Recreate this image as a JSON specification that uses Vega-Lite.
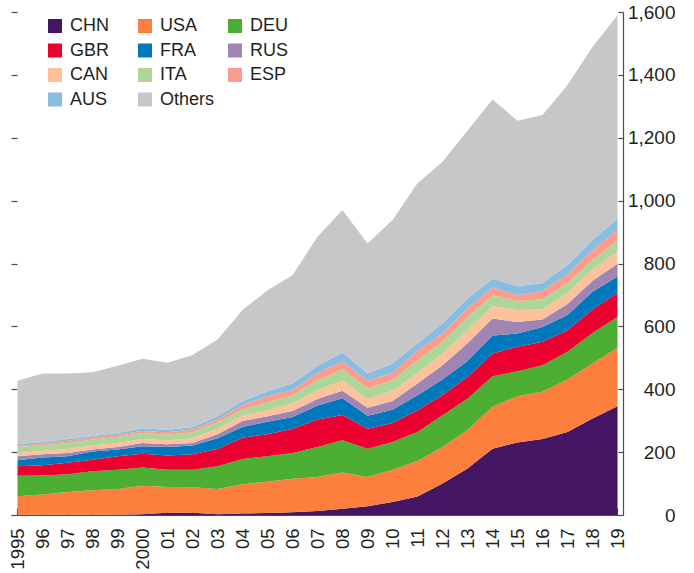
{
  "$schema": "https://vega.github.io/schema/vega-lite/v6.json",
  "width": 612,
  "height": 503,
  "autosize": {"type": "none"},
  "padding": {"left": 11, "top": 12, "right": 71, "bottom": 58},
  "config": {
    "view": {"stroke": null},
    "font": "Liberation Sans",
    "axis": {"labelFont": "Liberation Sans", "labelColor": "#231f20", "domainColor": "#4d4d4d", "tickColor": "#4d4d4d", "domainWidth": 1.2, "tickWidth": 1.2, "grid": false, "title": null}
  },
  "data": {"values": [
    {"year":1995,"country":"CHN","value":1},{"year":1996,"country":"CHN","value":1},{"year":1997,"country":"CHN","value":1},{"year":1998,"country":"CHN","value":1},{"year":1999,"country":"CHN","value":1},{"year":2000,"country":"CHN","value":2},{"year":2001,"country":"CHN","value":7},{"year":2002,"country":"CHN","value":7},{"year":2003,"country":"CHN","value":2},{"year":2004,"country":"CHN","value":5},{"year":2005,"country":"CHN","value":6},{"year":2006,"country":"CHN","value":9},{"year":2007,"country":"CHN","value":13},{"year":2008,"country":"CHN","value":20},{"year":2009,"country":"CHN","value":28},{"year":2010,"country":"CHN","value":41},{"year":2011,"country":"CHN","value":59},{"year":2012,"country":"CHN","value":100},{"year":2013,"country":"CHN","value":148},{"year":2014,"country":"CHN","value":211},{"year":2015,"country":"CHN","value":231},{"year":2016,"country":"CHN","value":242},{"year":2017,"country":"CHN","value":264},{"year":2018,"country":"CHN","value":307},{"year":2019,"country":"CHN","value":346},
    {"year":1995,"country":"USA","value":59},{"year":1996,"country":"USA","value":64},{"year":1997,"country":"USA","value":72},{"year":1998,"country":"USA","value":78},{"year":1999,"country":"USA","value":82},{"year":2000,"country":"USA","value":91},{"year":2001,"country":"USA","value":82},{"year":2002,"country":"USA","value":81},{"year":2003,"country":"USA","value":81},{"year":2004,"country":"USA","value":93},{"year":2005,"country":"USA","value":100},{"year":2006,"country":"USA","value":106},{"year":2007,"country":"USA","value":108},{"year":2008,"country":"USA","value":115},{"year":2009,"country":"USA","value":93},{"year":2010,"country":"USA","value":103},{"year":2011,"country":"USA","value":113},{"year":2012,"country":"USA","value":116},{"year":2013,"country":"USA","value":122},{"year":2014,"country":"USA","value":133},{"year":2015,"country":"USA","value":147},{"year":2016,"country":"USA","value":150},{"year":2017,"country":"USA","value":167},{"year":2018,"country":"USA","value":175},{"year":2019,"country":"USA","value":186},
    {"year":1995,"country":"DEU","value":65},{"year":1996,"country":"DEU","value":61},{"year":1997,"country":"DEU","value":57},{"year":1998,"country":"DEU","value":60},{"year":1999,"country":"DEU","value":61},{"year":2000,"country":"DEU","value":58},{"year":2001,"country":"DEU","value":55},{"year":2002,"country":"DEU","value":56},{"year":2003,"country":"DEU","value":72},{"year":2004,"country":"DEU","value":80},{"year":2005,"country":"DEU","value":81},{"year":2006,"country":"DEU","value":82},{"year":2007,"country":"DEU","value":95},{"year":2008,"country":"DEU","value":103},{"year":2009,"country":"DEU","value":90},{"year":2010,"country":"DEU","value":88},{"year":2011,"country":"DEU","value":92},{"year":2012,"country":"DEU","value":101},{"year":2013,"country":"DEU","value":100},{"year":2014,"country":"DEU","value":97},{"year":2015,"country":"DEU","value":79},{"year":2016,"country":"DEU","value":84},{"year":2017,"country":"DEU","value":88},{"year":2018,"country":"DEU","value":97},{"year":2019,"country":"DEU","value":98},
    {"year":1995,"country":"GBR","value":30},{"year":1996,"country":"GBR","value":32},{"year":1997,"country":"GBR","value":36},{"year":1998,"country":"GBR","value":37},{"year":1999,"country":"GBR","value":43},{"year":2000,"country":"GBR","value":44},{"year":2001,"country":"GBR","value":45},{"year":2002,"country":"GBR","value":49},{"year":2003,"country":"GBR","value":55},{"year":2004,"country":"GBR","value":68},{"year":2005,"country":"GBR","value":70},{"year":2006,"country":"GBR","value":77},{"year":2007,"country":"GBR","value":88},{"year":2008,"country":"GBR","value":80},{"year":2009,"country":"GBR","value":63},{"year":2010,"country":"GBR","value":61},{"year":2011,"country":"GBR","value":69},{"year":2012,"country":"GBR","value":64},{"year":2013,"country":"GBR","value":69},{"year":2014,"country":"GBR","value":73},{"year":2015,"country":"GBR","value":78},{"year":2016,"country":"GBR","value":75},{"year":2017,"country":"GBR","value":69},{"year":2018,"country":"GBR","value":75},{"year":2019,"country":"GBR","value":77},
    {"year":1995,"country":"FRA","value":19},{"year":1996,"country":"FRA","value":25},{"year":1997,"country":"FRA","value":21},{"year":1998,"country":"FRA","value":26},{"year":1999,"country":"FRA","value":21},{"year":2000,"country":"FRA","value":24},{"year":2001,"country":"FRA","value":27},{"year":2002,"country":"FRA","value":28},{"year":2003,"country":"FRA","value":34},{"year":2004,"country":"FRA","value":34},{"year":2005,"country":"FRA","value":40},{"year":2006,"country":"FRA","value":38},{"year":2007,"country":"FRA","value":44},{"year":2008,"country":"FRA","value":53},{"year":2009,"country":"FRA","value":42},{"year":2010,"country":"FRA","value":42},{"year":2011,"country":"FRA","value":48},{"year":2012,"country":"FRA","value":50},{"year":2013,"country":"FRA","value":51},{"year":2014,"country":"FRA","value":57},{"year":2015,"country":"FRA","value":42},{"year":2016,"country":"FRA","value":47},{"year":2017,"country":"FRA","value":48},{"year":2018,"country":"FRA","value":56},{"year":2019,"country":"FRA","value":52},
    {"year":1995,"country":"RUS","value":13},{"year":1996,"country":"RUS","value":10},{"year":1997,"country":"RUS","value":10},{"year":1998,"country":"RUS","value":6},{"year":1999,"country":"RUS","value":8},{"year":2000,"country":"RUS","value":10},{"year":2001,"country":"RUS","value":9},{"year":2002,"country":"RUS","value":8},{"year":2003,"country":"RUS","value":13},{"year":2004,"country":"RUS","value":19},{"year":2005,"country":"RUS","value":17},{"year":2006,"country":"RUS","value":19},{"year":2007,"country":"RUS","value":21},{"year":2008,"country":"RUS","value":24},{"year":2009,"country":"RUS","value":25},{"year":2010,"country":"RUS","value":28},{"year":2011,"country":"RUS","value":37},{"year":2012,"country":"RUS","value":45},{"year":2013,"country":"RUS","value":56},{"year":2014,"country":"RUS","value":54},{"year":2015,"country":"RUS","value":37},{"year":2016,"country":"RUS","value":24},{"year":2017,"country":"RUS","value":35},{"year":2018,"country":"RUS","value":35},{"year":2019,"country":"RUS","value":40},
    {"year":1995,"country":"CAN","value":10},{"year":1996,"country":"CAN","value":11},{"year":1997,"country":"CAN","value":13},{"year":1998,"country":"CAN","value":13},{"year":1999,"country":"CAN","value":13},{"year":2000,"country":"CAN","value":13},{"year":2001,"country":"CAN","value":13},{"year":2002,"country":"CAN","value":15},{"year":2003,"country":"CAN","value":17},{"year":2004,"country":"CAN","value":17},{"year":2005,"country":"CAN","value":19},{"year":2006,"country":"CAN","value":24},{"year":2007,"country":"CAN","value":28},{"year":2008,"country":"CAN","value":33},{"year":2009,"country":"CAN","value":29},{"year":2010,"country":"CAN","value":32},{"year":2011,"country":"CAN","value":34},{"year":2012,"country":"CAN","value":38},{"year":2013,"country":"CAN","value":42},{"year":2014,"country":"CAN","value":39},{"year":2015,"country":"CAN","value":38},{"year":2016,"country":"CAN","value":32},{"year":2017,"country":"CAN","value":36},{"year":2018,"country":"CAN","value":36},{"year":2019,"country":"CAN","value":38},
    {"year":1995,"country":"ITA","value":19},{"year":1996,"country":"ITA","value":18},{"year":1997,"country":"ITA","value":19},{"year":1998,"country":"ITA","value":19},{"year":1999,"country":"ITA","value":19},{"year":2000,"country":"ITA","value":19},{"year":2001,"country":"ITA","value":17},{"year":2002,"country":"ITA","value":19},{"year":2003,"country":"ITA","value":21},{"year":2004,"country":"ITA","value":19},{"year":2005,"country":"ITA","value":26},{"year":2006,"country":"ITA","value":25},{"year":2007,"country":"ITA","value":32},{"year":2008,"country":"ITA","value":36},{"year":2009,"country":"ITA","value":32},{"year":2010,"country":"ITA","value":34},{"year":2011,"country":"ITA","value":40},{"year":2012,"country":"ITA","value":37},{"year":2013,"country":"ITA","value":42},{"year":2014,"country":"ITA","value":34},{"year":2015,"country":"ITA","value":29},{"year":2016,"country":"ITA","value":32},{"year":2017,"country":"ITA","value":31},{"year":2018,"country":"ITA","value":30},{"year":2019,"country":"ITA","value":35},
    {"year":1995,"country":"ESP","value":4},{"year":1996,"country":"ESP","value":5},{"year":1997,"country":"ESP","value":7},{"year":1998,"country":"ESP","value":6},{"year":1999,"country":"ESP","value":7},{"year":2000,"country":"ESP","value":6},{"year":2001,"country":"ESP","value":8},{"year":2002,"country":"ESP","value":9},{"year":2003,"country":"ESP","value":9},{"year":2004,"country":"ESP","value":15},{"year":2005,"country":"ESP","value":19},{"year":2006,"country":"ESP","value":17},{"year":2007,"country":"ESP","value":23},{"year":2008,"country":"ESP","value":24},{"year":2009,"country":"ESP","value":25},{"year":2010,"country":"ESP","value":23},{"year":2011,"country":"ESP","value":32},{"year":2012,"country":"ESP","value":26},{"year":2013,"country":"ESP","value":27},{"year":2014,"country":"ESP","value":26},{"year":2015,"country":"ESP","value":18},{"year":2016,"country":"ESP","value":27},{"year":2017,"country":"ESP","value":28},{"year":2018,"country":"ESP","value":31},{"year":2019,"country":"ESP","value":36},
    {"year":1995,"country":"AUS","value":6},{"year":1996,"country":"AUS","value":5},{"year":1997,"country":"AUS","value":6},{"year":1998,"country":"AUS","value":5},{"year":1999,"country":"AUS","value":6},{"year":2000,"country":"AUS","value":9},{"year":2001,"country":"AUS","value":7},{"year":2002,"country":"AUS","value":8},{"year":2003,"country":"AUS","value":10},{"year":2004,"country":"AUS","value":13},{"year":2005,"country":"AUS","value":15},{"year":2006,"country":"AUS","value":21},{"year":2007,"country":"AUS","value":23},{"year":2008,"country":"AUS","value":29},{"year":2009,"country":"AUS","value":23},{"year":2010,"country":"AUS","value":30},{"year":2011,"country":"AUS","value":22},{"year":2012,"country":"AUS","value":32},{"year":2013,"country":"AUS","value":32},{"year":2014,"country":"AUS","value":28},{"year":2015,"country":"AUS","value":29},{"year":2016,"country":"AUS","value":25},{"year":2017,"country":"AUS","value":29},{"year":2018,"country":"AUS","value":32},{"year":2019,"country":"AUS","value":34},
    {"year":1995,"country":"Others","value":201},{"year":1996,"country":"Others","value":218},{"year":1997,"country":"Others","value":208},{"year":1998,"country":"Others","value":203},{"year":1999,"country":"Others","value":214},{"year":2000,"country":"Others","value":221},{"year":2001,"country":"Others","value":214},{"year":2002,"country":"Others","value":229},{"year":2003,"country":"Others","value":244},{"year":2004,"country":"Others","value":289},{"year":2005,"country":"Others","value":322},{"year":2006,"country":"Others","value":345},{"year":2007,"country":"Others","value":410},{"year":2008,"country":"Others","value":453},{"year":2009,"country":"Others","value":414},{"year":2010,"country":"Others","value":456},{"year":2011,"country":"Others","value":509},{"year":2012,"country":"Others","value":515},{"year":2013,"country":"Others","value":533},{"year":2014,"country":"Others","value":570},{"year":2015,"country":"Others","value":526},{"year":2016,"country":"Others","value":534},{"year":2017,"country":"Others","value":573},{"year":2018,"country":"Others","value":615},{"year":2019,"country":"Others","value":648}
  ]},
  "layer": [
    {
      "transform": [
        {"calculate": "indexof(['CHN','USA','DEU','GBR','FRA','RUS','CAN','ITA','ESP','AUS','Others'], datum.country)", "as": "rank"}
      ],
      "mark": {"type": "area", "interpolate": "linear", "opacity": 1},
      "encoding": {
        "x": {
          "field": "year", "type": "quantitative",
          "scale": {"domain": [1994.74, 2019.22], "nice": false, "zero": false},
          "axis": {
            "values": [1995,1996,1997,1998,1999,2000,2001,2002,2003,2004,2005,2006,2007,2008,2009,2010,2011,2012,2013,2014,2015,2016,2017,2018,2019],
            "format": "d",
            "labelExpr": "datum.value == 1995 || datum.value == 2000 ? '' + datum.value : substring('' + datum.value, 2, 4)",
            "labelAngle": 270, "labelAlign": "right", "labelBaseline": "middle",
            "labelFontSize": 18.5, "tickSize": -7, "labelPadding": 20, "labelFlush": false, "labelOverlap": false
          }
        },
        "y": {
          "field": "value", "type": "quantitative", "stack": "zero",
          "scale": {"domain": [0, 1600], "nice": false},
          "axis": {
            "orient": "right", "values": [0,200,400,600,800,1000,1200,1400,1600], "format": ",d",
            "labelFontSize": 19, "labelAlign": "right", "labelBaseline": "middle", "tickSize": -5, "labelPadding": 57, "labelFlush": false
          }
        },
        "order": {"field": "rank", "type": "quantitative", "sort": "ascending"},
        "color": {
          "field": "country", "type": "nominal",
          "sort": ["CHN","USA","DEU","GBR","FRA","RUS","CAN","ITA","ESP","AUS","Others"],
          "scale": {
            "domain": ["CHN","USA","DEU","GBR","FRA","RUS","CAN","ITA","ESP","AUS","Others"],
            "range": ["#431563","#fd7f3d","#4cae32","#ec0030","#0079bc","#a084b4","#fdc19b","#afd699","#fb9c8c","#89bde0","#c6c7c9"]
          },
          "legend": {
            "title": null, "orient": "none", "legendX": 35, "legendY": 5, "columns": 3, "direction": "horizontal", "gridAlign": "all",
            "columnPadding": 11, "rowPadding": 6.5, "padding": 0,
            "symbolType": "square", "symbolSize": 196, "symbolStrokeWidth": 0, "symbolOpacity": 1,
            "labelFontSize": 18, "labelFont": "Liberation Sans", "labelColor": "#231f20", "labelOffset": 6
          }
        }
      }
    },
    {
      "mark": {"type": "rule", "opacity": 0},
      "encoding": {
        "y": {
          "field": "value", "type": "quantitative",
          "axis": {"orient": "left", "values": [0,200,400,600,800,1000,1200,1400,1600], "labels": false, "domain": false, "tickSize": -6}
        }
      }
    }
  ],
  "resolve": {"axis": {"y": "independent"}}
}
